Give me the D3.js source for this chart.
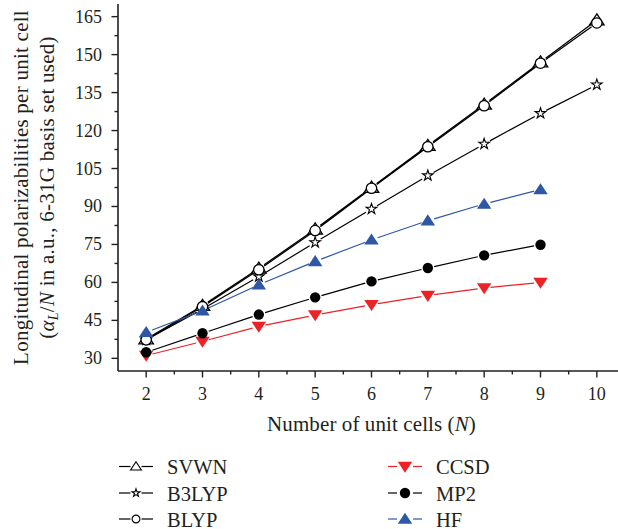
<!DOCTYPE html>
<html>
<head>
<meta charset="utf-8">
<script src="https://cdn.jsdelivr.net/npm/d3@7"></script>
<style>
  html, body { margin: 0; padding: 0; background: #fff; }
  svg { display: block; font-family: "Liberation Serif", "DejaVu Serif", serif; }
</style>
</head>
<body>
<svg id="chart" width="618" height="529"></svg>
<script>
// Data
const unit_cells = [2, 3, 4, 5, 6, 7, 8, 9, 10];
const svwn  = [37.6, 50.8, 65.5, 81.0, 97.5, 114.0, 130.3, 147.0, 163.6];
const b3lyp = [37.3, 49.5, 62.3, 75.8, 89.0, 102.2, 114.7, 126.8, 138.1];
const blyp  = [37.3, 50.4, 65.0, 80.5, 97.2, 113.6, 129.8, 146.6, 162.5];
const ccsd  = [31.1, 36.7, 42.6, 47.1, 51.2, 54.8, 57.8, 60.0];
const mp2   = [32.4, 39.9, 47.3, 54.1, 60.4, 65.7, 70.7, 74.9];
const hf    = [40.3, 48.8, 59.1, 68.3, 76.8, 84.4, 91.0, 96.7];

const x_ticks = [2, 3, 4, 5, 6, 7, 8, 9, 10];
const y_ticks = [30, 45, 60, 75, 90, 105, 120, 135, 150, 165];

const series = [
  { name: 'SVWN',  values: svwn,  symbol: 'tri_up',   color: '#000', fill: '#fff', lw: 1.3 },
  { name: 'B3LYP', values: b3lyp, symbol: 'star',     color: '#000', fill: '#fff', lw: 1.2 },
  { name: 'BLYP',  values: blyp,  symbol: 'circle',   color: '#000', fill: '#fff', lw: 1.3 },
  { name: 'CCSD',  values: ccsd,  symbol: 'tri_down', color: '#ec2227', fill: '#ec2227', lw: 1.2 },
  { name: 'MP2',   values: mp2,   symbol: 'circle',   color: '#000', fill: '#000', lw: 1.2 },
  { name: 'HF',    values: hf,    symbol: 'tri_up',   color: '#2e57a6', fill: '#2e57a6', lw: 1.2 },
];

const text_color = '#231f20';
const svg = d3.select('#chart');

// Scales
const x = d3.scaleLinear().domain([1.5, 10.5]).range([118, 625]);
const y = d3.scaleLinear().domain([25, 170]).range([371, 4]);

// Symbol path centred on its bounding box, s ~ half width
function symbol_path(kind, s) {
  if (kind === 'circle') {
    return d3.symbol().type(d3.symbolCircle).size(Math.PI * s * s)();
  }
  if (kind === 'star') {
    return d3.symbol().type(d3.symbolStar).size((s * s) / 0.8908)();
  }
  const w = s * 1.15, h = s;
  if (kind === 'tri_up') return `M0,${-h}L${w},${h * 0.75}L${-w},${h * 0.75}Z`;
  return `M0,${h}L${w},${-h * 0.75}L${-w},${-h * 0.75}Z`;
}
const symbol_size = { circle: 5.2, star: 5.6, tri_up: 6.3, tri_down: 6.3 };

// Axes
const x_axis = svg.append('g').attr('transform', `translate(0,${y(25)})`);
x_axis.append('line')
  .attr('x1', x(1.5)).attr('x2', x(10.5))
  .attr('stroke', text_color).attr('stroke-width', 1.6);
x_axis.selectAll('.minor')
  .data(d3.range(2.5, 10.5, 1))
  .enter().append('line')
  .attr('x1', d => x(d)).attr('x2', d => x(d))
  .attr('y1', 0).attr('y2', 3.5)
  .attr('stroke', text_color).attr('stroke-width', 1.4);
x_axis.selectAll('.major')
  .data(x_ticks)
  .enter().append('line')
  .attr('x1', d => x(d)).attr('x2', d => x(d))
  .attr('y1', 0).attr('y2', 6.5)
  .attr('stroke', text_color).attr('stroke-width', 1.4);
x_axis.selectAll('text')
  .data(x_ticks)
  .enter().append('text')
  .attr('x', d => x(d)).attr('y', 29)
  .attr('text-anchor', 'middle')
  .attr('font-size', 18).attr('fill', text_color)
  .text(d => d);

const y_axis = svg.append('g').attr('transform', `translate(${x(1.5)},0)`);
y_axis.append('line')
  .attr('y1', y(25)).attr('y2', y(170))
  .attr('stroke', text_color).attr('stroke-width', 1.6);
y_axis.selectAll('.minor')
  .data(d3.range(37.5, 170, 15))
  .enter().append('line')
  .attr('y1', d => y(d)).attr('y2', d => y(d))
  .attr('x1', 0).attr('x2', -3.5)
  .attr('stroke', text_color).attr('stroke-width', 1.4);
y_axis.selectAll('.major')
  .data(y_ticks)
  .enter().append('line')
  .attr('y1', d => y(d)).attr('y2', d => y(d))
  .attr('x1', 0).attr('x2', -6.5)
  .attr('stroke', text_color).attr('stroke-width', 1.4);
y_axis.selectAll('text')
  .data(y_ticks)
  .enter().append('text')
  .attr('x', -16).attr('y', d => y(d) + 6)
  .attr('text-anchor', 'end')
  .attr('font-size', 18).attr('fill', text_color)
  .text(d => d);

// Axis titles
svg.append('text')
  .attr('x', x(6)).attr('y', 431)
  .attr('text-anchor', 'middle')
  .attr('font-size', 21).attr('letter-spacing', 0.1).attr('fill', text_color)
  .call(t => {
    t.append('tspan').text('Number of unit cells (');
    t.append('tspan').attr('font-style', 'italic').text('N');
    t.append('tspan').text(')');
  });

const y_title = svg.append('g')
  .attr('transform', `translate(0,${(y(25) + y(170)) / 2}) rotate(-90)`)
  .attr('font-size', 21).attr('letter-spacing', 0.25).attr('fill', text_color);
y_title.append('text')
  .attr('x', 0).attr('y', 28)
  .attr('text-anchor', 'middle')
  .text('Longitudinal polarizabilities per unit cell');
y_title.append('text')
  .attr('x', 0).attr('y', 54)
  .attr('text-anchor', 'middle')
  .call(t => {
    t.append('tspan').text('(');
    t.append('tspan').attr('font-style', 'italic').text('α');
    t.append('tspan').attr('font-style', 'italic').attr('font-size', 14).attr('dy', 4).text('L');
    t.append('tspan').attr('dy', -4).text('/');
    t.append('tspan').attr('font-style', 'italic').text('N');
    t.append('tspan').text(' in a.u., 6-31G basis set used)');
  });

// Lines with gaps around the markers, then markers
const plot = svg.append('g');
series.forEach(s => {
  const pts = s.values.map((v, i) => [x(unit_cells[i]), y(v)]);
  const gap = 6.5;
  const segs = d3.pairs(pts).map(([a, b]) => {
    const dx = b[0] - a[0], dy = b[1] - a[1];
    const len = Math.hypot(dx, dy);
    const ux = dx / len, uy = dy / len;
    return [a[0] + ux * gap, a[1] + uy * gap, b[0] - ux * gap, b[1] - uy * gap];
  });
  const g = plot.append('g');
  g.selectAll('line')
    .data(segs)
    .enter().append('line')
    .attr('x1', d => d[0]).attr('y1', d => d[1])
    .attr('x2', d => d[2]).attr('y2', d => d[3])
    .attr('stroke', s.color).attr('stroke-width', s.lw);
  g.selectAll('path')
    .data(pts)
    .enter().append('path')
    .attr('transform', d => `translate(${d[0]},${d[1]})`)
    .attr('d', symbol_path(s.symbol, symbol_size[s.symbol]))
    .attr('fill', s.fill)
    .attr('stroke', s.fill === '#fff' ? '#000' : 'none')
    .attr('stroke-width', s.symbol === 'star' ? 1.1 : 1.3);
});

// Legend
const legend_cols = [119, 388];
const legend_rows = [466.5, 493, 519];
series.forEach((s, i) => {
  const lx = legend_cols[Math.floor(i / 3)];
  const ly = legend_rows[i % 3];
  const g = svg.append('g').attr('transform', `translate(${lx},${ly})`);
  const half = s.fill === '#fff' ? 5.5 : 8;
  g.append('line').attr('x1', 0).attr('x2', 17 - half)
    .attr('stroke', s.color).attr('stroke-width', 1.2);
  g.append('line').attr('x1', 17 + half).attr('x2', 34)
    .attr('stroke', s.color).attr('stroke-width', 1.2);
  const sz = s.fill === '#fff' ? symbol_size[s.symbol] * 0.75 : symbol_size[s.symbol];
  g.append('path')
    .attr('transform', 'translate(17,0)')
    .attr('d', symbol_path(s.symbol, sz))
    .attr('fill', s.fill)
    .attr('stroke', s.fill === '#fff' ? '#000' : 'none')
    .attr('stroke-width', 1.1);
  g.append('text')
    .attr('x', 48).attr('y', 7.5)
    .attr('font-size', 20.5).attr('fill', text_color)
    .text(s.name);
});
</script>
</body>
</html>
